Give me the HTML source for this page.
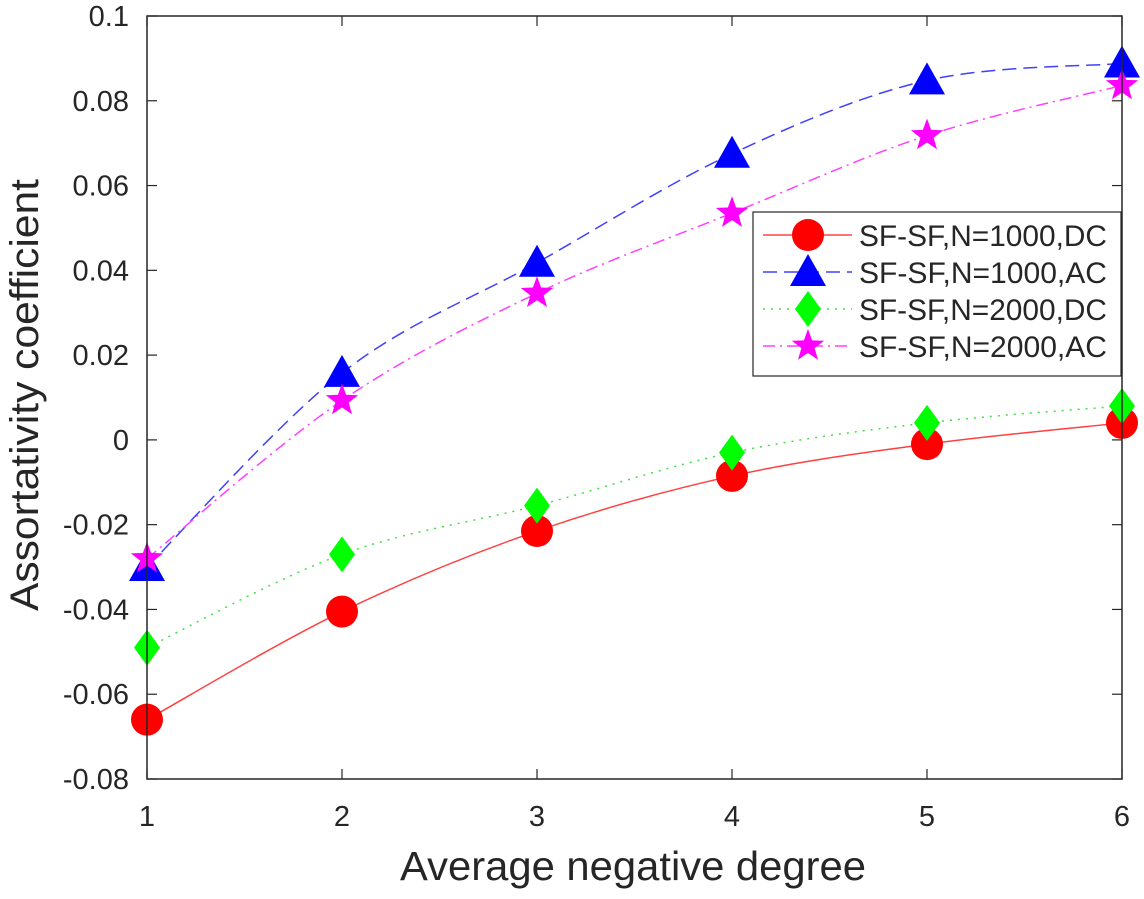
<!DOCTYPE html>
<html><head><meta charset="utf-8"><style>
html,body{margin:0;padding:0;background:#fff;}
text{font-family:"Liberation Sans",sans-serif;fill:#262626;}
</style></head><body>
<svg id="chart" width="1144" height="894" viewBox="0 0 1144 894" xmlns="http://www.w3.org/2000/svg">
<g id="grid"></g>
<g id="series"></g>
<g id="axes"></g>
<g id="legend"></g>
</svg>
<script>
const xCategories=[1,2,3,4,5,6];
const yTicks=[0.1,0.08,0.06,0.04,0.02,0,-0.02,-0.04,-0.06,-0.08];
const yTickLabels=['0.1','0.08','0.06','0.04','0.02','0','-0.02','-0.04','-0.06','-0.08'];
const dc1000=[-0.066,-0.0405,-0.0215,-0.0085,-0.001,0.004];
const ac1000=[-0.030,0.0158,0.0418,0.0675,0.0848,0.0888];
const dc2000=[-0.049,-0.027,-0.0155,-0.003,0.004,0.008];
const ac2000=[-0.028,0.0093,0.0346,0.0535,0.0718,0.0836];
const seriesLabels=['SF-SF,N=1000,DC','SF-SF,N=1000,AC','SF-SF,N=2000,DC','SF-SF,N=2000,AC'];

const L=147,R=1122,T=16,B=779;
const xs=v=>L+(v-1)*(R-L)/5;
const ys=v=>T+(0.1-v)*(B-T)/0.18;
const NS='http://www.w3.org/2000/svg';
function mk(tag,attrs,parent){const e=document.createElementNS(NS,tag);for(const k in attrs)e.setAttribute(k,attrs[k]);parent.appendChild(e);return e;}
const axes=document.getElementById('axes'),ser=document.getElementById('series'),leg=document.getElementById('legend');

const box=mk('rect',{x:L,y:T,width:R-L,height:B-T,fill:'none',stroke:'#262626','stroke-width':1.5},axes);


xCategories.forEach(c=>{
  const x=xs(c);
  mk('line',{x1:x,y1:B,x2:x,y2:B-10,stroke:'#262626','stroke-width':1.2},axes);
  mk('line',{x1:x,y1:T,x2:x,y2:T+10,stroke:'#262626','stroke-width':1.2},axes);
  const t=mk('text',{x:x,y:826,'text-anchor':'middle','font-size':29},axes);
  t.textContent=c;
  
  
});
yTicks.forEach((v,i)=>{
  const y=ys(v);
  mk('line',{x1:L,y1:y,x2:L+10,y2:y,stroke:'#262626','stroke-width':1.2},axes);
  mk('line',{x1:R,y1:y,x2:R-10,y2:y,stroke:'#262626','stroke-width':1.2},axes);
  const t=mk('text',{x:L-18,y:y+10,'text-anchor':'end','font-size':29},axes);
  t.textContent=yTickLabels[i];
  
  
});
const xt=mk('text',{x:400,y:880,'font-size':41,textLength:466,lengthAdjust:'spacingAndGlyphs'},axes);
xt.textContent='Average negative degree';


const yt=mk('text',{x:-216,y:0,'font-size':40,textLength:432,lengthAdjust:'spacingAndGlyphs',transform:`translate(38,395) rotate(-90)`},axes);
yt.textContent='Assortativity coefficient';



function curve(pts){
  let d=`M${pts[0][0]},${pts[0][1]}`;
  for(let i=0;i<pts.length-1;i++){
    const p0=pts[Math.max(i-1,0)],p1=pts[i],p2=pts[i+1],p3=pts[Math.min(i+2,pts.length-1)];
    const c1=[p1[0]+(p2[0]-p0[0])/6,p1[1]+(p2[1]-p0[1])/6];
    const c2=[p2[0]-(p3[0]-p1[0])/6,p2[1]-(p3[1]-p1[1])/6];
    d+=` C${c1[0]},${c1[1]} ${c2[0]},${c2[1]} ${p2[0]},${p2[1]}`;
  }
  return d;
}
function marker(type,x,y,color,parent){
  if(type==='circle')return mk('circle',{cx:x,cy:y,r:16,fill:color},parent);
  if(type==='tri')return mk('polygon',{points:`${x},${y-18} ${x-18},${y+14} ${x+18},${y+14}`,fill:color},parent);
  if(type==='diamond')return mk('polygon',{points:`${x},${y-18} ${x+13},${y} ${x},${y+18} ${x-13},${y}`,fill:color},parent);
  const p=[];for(let k=0;k<10;k++){const r=k%2?7:17;const a=-Math.PI/2+k*Math.PI/5;p.push(`${x+r*Math.cos(a)},${y+r*Math.sin(a)}`);}
  return mk('polygon',{points:p.join(' '),fill:color},parent);
}
const defs=[
 {data:dc1000,color:'#ff0000',lc:'#ff4040',dash:'',m:'circle',name:'series-n1000-dc'},
 {data:ac1000,color:'#0000ff',lc:'#4040ff',dash:'14,7',m:'tri',name:'series-n1000-ac'},
 {data:dc2000,color:'#00ff00',lc:'#40e040',dash:'2,6',m:'diamond',name:'series-n2000-dc'},
 {data:ac2000,color:'#ff00ff',lc:'#ff40ff',dash:'12,5,2,5',m:'star',name:'series-n2000-ac'}
];
defs.forEach((s,si)=>{
  const g=mk('g',{},ser);
  
  
  const pts=s.data.map((v,i)=>[xs(xCategories[i]),ys(v)]);
  mk('path',{d:curve(pts),fill:'none',stroke:s.lc,'stroke-width':1.5,'stroke-dasharray':s.dash},g);
  pts.forEach(p=>{const m=marker(s.m,p[0],p[1],s.color,g);
    
    });
});
const lg=mk('g',{},leg);


mk('rect',{x:753,y:212,width:368,height:164,fill:'#fff',stroke:'#262626','stroke-width':1.2},lg);
defs.forEach((s,i)=>{
  const y=235+i*37;
  const e=mk('g',{},lg);
  
  
  mk('line',{x1:763,y1:y,x2:852,y2:y,stroke:s.lc,'stroke-width':1.5,'stroke-dasharray':s.dash},e);
  marker(s.m,808,y,s.color,e);
  const t=mk('text',{x:859,y:y+11,'font-size':30,textLength:248,lengthAdjust:'spacingAndGlyphs'},e);
  t.textContent=seriesLabels[i];
});
</script>
</body></html>
